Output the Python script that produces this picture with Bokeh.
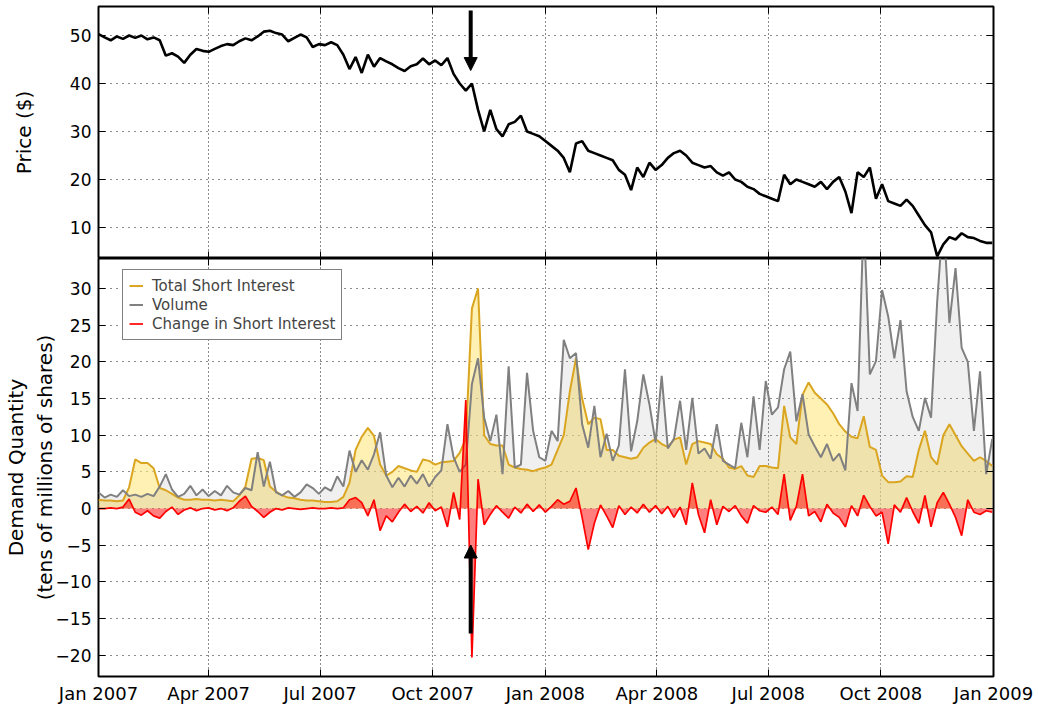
import pandas as pd
from bokeh.plotting import figure
from bokeh.layouts import column
from bokeh.models import (Range1d, LinearAxis, DatetimeAxis, MonthsTicker, FixedTicker,
                          DatetimeTickFormatter, Arrow, NormalHead, Legend, LegendItem)
from bokeh.embed import file_html
from bokeh.resources import INLINE

# ---------------- data (one value every 5 days) ----------------
start_date = "2007-01-01"
n_points = 147
event_date = "2007-11-01"

price = [50.3, 49.6, 49.0, 49.8, 49.3, 50.0, 49.5, 50.0, 49.2, 49.6,
         49.0, 45.8, 46.3, 45.6, 44.3, 46.0, 47.2, 46.8, 46.6, 47.2,
         47.8, 48.2, 48.0, 48.8, 49.4, 49.0, 49.8, 50.8, 51.0, 50.5,
         50.2, 48.8, 49.5, 50.2, 49.6, 47.6, 48.2, 48.0, 48.6, 48.0,
         46.0, 43.0, 45.5, 42.2, 46.0, 43.5, 45.3, 44.6, 44.0, 43.2,
         42.6, 43.6, 44.0, 45.2, 44.0, 44.8, 43.8, 45.3, 42.0, 40.0,
         38.5, 40.0, 34.5, 30.0, 34.5, 30.5, 29.0, 31.5, 32.0, 33.3,
         30.0, 29.5, 29.0, 28.0, 27.0, 26.0, 24.5, 21.5, 27.5, 28.0,
         26.0, 25.5, 25.0, 24.5, 24.0, 22.0, 21.0, 17.8, 22.5, 20.5,
         23.5, 22.0, 23.0, 24.5, 25.5, 26.0, 25.0, 23.5, 23.0, 22.5,
         22.8, 21.5, 20.8, 21.5, 20.0, 19.5, 18.5, 18.0, 17.0, 16.5,
         16.0, 15.5, 21.0, 19.0, 20.0, 19.5, 19.0, 18.5, 19.5, 18.0,
         19.5, 20.5, 17.5, 13.0, 21.5, 20.5, 22.5, 16.0, 19.0, 15.5,
         15.0, 14.5, 15.8, 14.5, 12.5, 10.5, 9.0, 4.0, 6.5, 8.0,
         7.5, 8.8, 8.0, 7.8, 7.2, 6.8, 6.8]

short_interest = [1.2, 1.1, 1.1, 1.0, 1.1, 2.9, 6.7, 6.2, 6.2, 5.5,
                  2.8, 2.5, 2.0, 1.5, 1.2, 1.2, 1.3, 1.2, 1.2, 1.1,
                  1.2, 1.1, 1.0, 1.8, 3.0, 6.8, 6.9, 6.6, 3.0, 2.3,
                  1.8, 1.5, 1.4, 1.2, 1.1, 1.1, 1.0, 0.9, 0.9, 1.0,
                  1.6, 3.5, 8.0, 9.8, 11.0, 9.9, 6.0, 4.5, 5.0, 5.8,
                  5.5, 5.2, 5.0, 6.7, 6.5, 6.0, 6.3, 6.4, 6.5, 7.6,
                  9.5, 27.3, 30.0, 10.0, 8.8, 8.6, 8.6, 6.0, 5.6, 5.4,
                  5.3, 5.1, 5.4, 5.6, 6.0, 8.0, 10.0, 16.0, 20.5, 15.0,
                  11.5, 12.4, 12.2, 8.0, 8.0, 7.2, 7.0, 6.8, 7.0, 8.3,
                  9.0, 9.5, 8.8, 8.4, 9.4, 9.7, 6.0, 8.8, 9.2, 9.0,
                  8.8, 7.4, 6.8, 5.6, 5.4, 5.8, 4.5, 4.3, 5.8, 5.8,
                  5.6, 5.5, 14.0, 9.7, 8.8, 15.5, 17.2, 15.8, 15.0, 14.2,
                  13.0, 11.5, 10.5, 9.8, 9.6, 12.6, 8.4, 8.0, 4.5, 3.6,
                  3.6, 3.7, 4.4, 4.3, 8.0, 10.6, 7.0, 6.0, 10.0, 11.5,
                  10.0, 8.5, 7.5, 6.5, 7.0, 6.5, 5.8]

volume = [2.2, 1.5, 1.9, 1.6, 2.5, 1.7, 1.9, 1.6, 2.0, 1.7,
          3.0, 4.7, 2.6, 1.6, 2.0, 3.1, 1.8, 2.6, 1.7, 2.4,
          1.8, 3.1, 2.2, 1.9, 2.8, 2.5, 7.7, 3.0, 6.4, 2.2,
          1.8, 2.4, 1.6, 2.2, 3.3, 2.8, 2.0, 2.9, 2.4, 4.4,
          3.0, 7.9, 5.0, 6.6, 5.3, 7.4, 10.4, 4.5, 2.9, 4.2,
          3.0, 4.5, 3.4, 4.7, 3.0, 4.3, 5.2, 11.5, 7.0, 5.0,
          6.0, 17.0, 20.5, 12.4, 9.2, 12.8, 4.7, 19.4, 5.6, 6.0,
          18.5, 10.6, 7.0, 6.5, 10.6, 9.2, 23.0, 20.5, 21.2, 11.5,
          8.3, 14.0, 7.0, 10.2, 6.5, 8.6, 19.0, 7.8, 11.9, 18.3,
          14.2, 9.0, 18.1, 8.2, 9.5, 14.7, 8.0, 15.1, 7.5, 8.2,
          6.8, 11.5, 6.5, 6.0, 5.5, 11.7, 7.0, 15.3, 8.0, 17.4,
          12.8, 13.8, 19.0, 21.4, 11.9, 15.6, 10.1, 8.5, 7.0, 8.8,
          6.5, 7.5, 5.2, 17.1, 13.3, 40.0, 18.3, 20.1, 29.8, 26.2,
          20.5, 25.7, 16.0, 12.5, 10.6, 15.1, 12.4, 28.2, 40.0, 25.3,
          32.8, 21.9, 20.0, 10.6, 18.7, 4.7, 9.5]

si_change = [0.0, 0.0, 0.1, 0.0, 0.2, 1.3, -0.5, -0.9, -0.3, -1.0,
             -1.3, -0.4, 0.2, -0.8, -0.2, 0.1, -0.3, 0.0, 0.1, -0.2,
             0.0, -0.3, 0.1, 1.0, 1.7, 0.3, -0.4, -1.2, -0.5, 0.0,
             -0.2, 0.1, 0.0, -0.1, 0.0, 0.1, 0.0, 0.0, 0.1, 0.0,
             0.1, 1.2, 1.5, 0.8, -1.0, 1.2, -3.0, -1.0, -1.8, -0.5,
             0.6, -0.4, 0.3, -0.6, 0.8, -0.3, 0.2, -2.5, 2.2, -1.5,
             14.8, -20.3, 4.0, -2.2, -0.8, 0.4, -0.5, -1.3, 0.2, -0.6,
             0.6, -0.4, 0.5, -0.5, 0.3, 1.2, 0.6, 1.0, 2.8, -1.2,
             -5.6, -2.0, 0.5, -1.0, -2.6, 0.4, -0.8, 0.2, -0.6, 0.6,
             -0.5, 0.4, -0.7, 0.3, -1.2, 0.2, -2.2, 3.5, -0.8, -3.3,
             1.2, -2.2, 0.3, -0.4, 0.4, -1.0, -2.0, 0.4, -0.3, -0.5,
             0.2, -0.8, 4.7, -1.6, 0.3, 4.7, -1.0, -0.4, -1.8, 0.6,
             -0.6, -1.2, -2.5, 0.4, -1.0, 1.8, 0.3, -1.0, -0.5, -4.8,
             0.5, -0.5, 1.5, -0.4, -2.0, 1.8, -2.5, 0.8, 2.2, 0.6,
             -1.2, -3.7, 1.2, -0.5, -0.8, -0.3, -0.5]

price_ticks = [10, 20, 30, 40, 50]
demand_ticks = [-20, -15, -10, -5, 0, 5, 10, 15, 20, 25, 30]

dates = pd.date_range(start_date, periods=n_points, freq="5D")
zeros = [0.0] * n_points
ev_ms = pd.Timestamp(event_date).timestamp() * 1000.0

FONT = "DejaVu Sans"
month_ticker = MonthsTicker(months=[0, 3, 6, 9])
x_range = Range1d(pd.Timestamp("2007-01-01"), pd.Timestamp("2009-01-01"))

W = 1037
LEFT = 98
RIGHT = W - LEFT - 895


def style_axis(ax, show_labels=True, size="17px"):
    ax.axis_line_color = None
    ax.major_tick_in = 7
    ax.major_tick_out = 0
    ax.minor_tick_in = 0
    ax.minor_tick_out = 0
    ax.major_tick_line_color = "black"
    ax.major_tick_line_width = 1
    ax.major_label_text_font = FONT
    if show_labels:
        ax.major_label_text_color = "black"
        ax.major_label_text_font_size = size
        ax.major_label_standoff = 7
    else:
        ax.major_label_text_color = None
        ax.major_label_text_font_size = "1px"
        ax.major_label_standoff = 0


def build(p, yticks, show_x):
    xa = p.xaxis[0]
    ya = p.yaxis[0]
    p.outline_line_color = "black"
    p.outline_line_width = 2
    p.outline_line_alpha = 1
    p.background_fill_color = "white"
    p.border_fill_color = "white"
    for g in p.xgrid:
        g.ticker = month_ticker
        g.grid_line_color = "black"
        g.grid_line_dash = "1 3"
        g.grid_line_alpha = 0.9
    for g in p.ygrid:
        g.ticker = FixedTicker(ticks=yticks)
        g.grid_line_color = "black"
        g.grid_line_dash = "1 5"
        g.grid_line_alpha = 0.9
    ya.ticker = FixedTicker(ticks=yticks)
    xa.ticker = month_ticker
    xa.formatter = DatetimeTickFormatter(months="%b %Y", years="%b %Y")
    style_axis(ya, True, "17px")
    style_axis(xa, show_x, "18px")
    if show_x:
        xa.major_label_standoff = 6
    ya.axis_label_text_font = FONT
    ya.axis_label_text_font_size = "20px"
    ya.axis_label_text_font_style = "normal"
    ya.axis_label_text_color = "black"
    r = LinearAxis(ticker=FixedTicker(ticks=yticks))
    style_axis(r, False)
    p.add_layout(r, "right")
    a = DatetimeAxis(ticker=month_ticker)
    style_axis(a, False)
    p.add_layout(a, "above")
    return xa, ya


# ---------------- price panel ----------------
p1 = figure(width=W, height=258, x_axis_type="datetime", x_range=x_range,
            y_range=Range1d(3.54, 56.04), output_backend="svg", toolbar_location=None,
            min_border_left=LEFT, min_border_right=RIGHT, min_border_top=6, min_border_bottom=0)
xa1, ya1 = build(p1, price_ticks, False)
ya1.axis_label = "Price ($)"
ya1.axis_label_standoff = 31

p1.line(dates, price, line_color="black", line_width=2.6)
p1.add_layout(Arrow(end=NormalHead(size=13, fill_color="black", line_color="black"),
                    x_start=ev_ms, y_start=55.2, x_end=ev_ms, y_end=42.7,
                    line_color="black", line_width=4))

# ---------------- demand panel ----------------
p2 = figure(width=W, height=448, x_axis_type="datetime", x_range=x_range,
            y_range=Range1d(-22.9, 34.1), output_backend="svg", toolbar_location=None,
            min_border_left=LEFT, min_border_right=RIGHT, min_border_top=0, min_border_bottom=28)
xa2, ya2 = build(p2, demand_ticks, True)
ya2.axis_label = "Demand Quantity\n(tens of millions of shares)"
ya2.axis_label_standoff = -4

p2.varea(x=dates, y1=zeros, y2=short_interest, fill_color="#FFE680", fill_alpha=0.6)
p2.varea(x=dates, y1=zeros, y2=volume, fill_color="#808080", fill_alpha=0.12)
si_line = p2.line(dates, short_interest, line_color="#DAA520", line_width=2)
vol_line = p2.line(dates, volume, line_color="#808080", line_width=2)
p2.varea(x=dates, y1=zeros, y2=si_change, fill_color="#FF0000", fill_alpha=0.5)
ch_line = p2.line(dates, si_change, line_color="#FF0000", line_width=1.7)

p2.add_layout(Arrow(end=NormalHead(size=13, fill_color="black", line_color="black"),
                    x_start=ev_ms, y_start=-17.05, x_end=ev_ms, y_end=-4.97,
                    line_color="black", line_width=4))

legend = Legend(items=[LegendItem(label="Total Short Interest", renderers=[si_line]),
                       LegendItem(label="Volume", renderers=[vol_line]),
                       LegendItem(label="Change in Short Interest", renderers=[ch_line])],
                location=(24, 336))
legend.border_line_color = "black"
legend.border_line_width = 1.5
legend.background_fill_color = "white"
legend.background_fill_alpha = 1
legend.label_text_font = FONT
legend.label_text_font_size = "15px"
legend.padding = 6
legend.spacing = 0
legend.label_height = 19
legend.glyph_height = 19
legend.glyph_width = 14
legend.label_standoff = 9
legend.margin = 0
p2.add_layout(legend)

layout = column(p1, p2, spacing=0)
open("out.html", "w").write(file_html(layout, INLINE))
